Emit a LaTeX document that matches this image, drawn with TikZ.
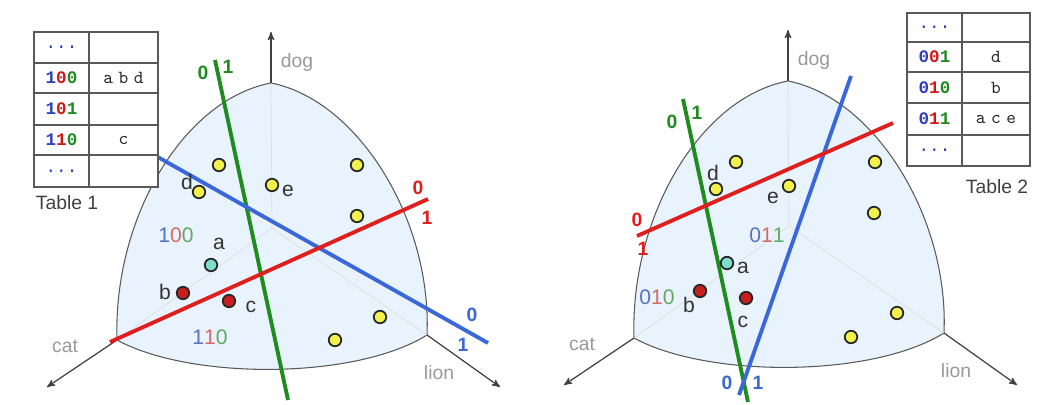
\documentclass[tikz,border=0pt]{standalone}
\usepackage{fontspec}
\setmainfont{Liberation Sans}
\newfontfamily\tabfont{Liberation Mono}
\usetikzlibrary{arrows}

\definecolor{facefill}{HTML}{E9F3FD}
\definecolor{hgreen}{HTML}{1E8C1E}
\definecolor{hblue}{HTML}{3A68DA}
\definecolor{hred}{HTML}{E01E1E}
\definecolor{ptyellow}{HTML}{F2F04A}
\definecolor{ptred}{HTML}{C81E1E}
\definecolor{ptcyan}{HTML}{7EDCCB}
\definecolor{rblue}{HTML}{5B6FC4}
\definecolor{rred}{HTML}{D46A6A}
\definecolor{rgreen}{HTML}{62A862}
\definecolor{tblue}{HTML}{2B3FC0}
\definecolor{tred}{HTML}{D01818}
\definecolor{tgreen}{HTML}{1F8A1F}

\newcommand{\regbits}[3]{\textcolor{rblue}{#1}\textcolor{rred}{#2}\textcolor{rgreen}{#3}}
\newcommand{\tabbits}[3]{{\tabfont\bfseries\textcolor{tblue}{#1}\textcolor{tred}{#2}\textcolor{tgreen}{#3}}}
\newcommand{\gap}{\hspace{0.3em}}

\begin{document}
\begin{tikzpicture}[x=0.02cm,y=-0.02cm,>=stealth',
  face/.style={draw=black!65,fill=facefill,line width=0.6pt},
  faint/.style={draw=black!13,line width=0.4pt},
  axis/.style={->,draw=black!75,line width=0.7pt},
  ax label/.style={text=black!40,font=\fontsize{11}{13}\selectfont},
  pt label/.style={text=black!80,font=\fontsize{12}{14}\selectfont},
  region/.style={font=\fontsize{12}{14}\selectfont},
  cut label/.style={font=\fontsize{11}{13}\selectfont\bfseries},
  hyper/.style={line width=2.2pt},
  dot/.style={circle,draw=black!85,line width=1pt,minimum size=0.25cm,inner sep=0pt},
  yellow dot/.style={dot,fill=ptyellow},
  red dot/.style={dot,fill=ptred},
  cyan dot/.style={dot,fill=ptcyan},
  tab line/.style={draw=black!65,line width=0.6pt},
  tab cell/.style={font=\fontsize{10}{12}\selectfont,inner sep=0pt},
  tab val/.style={font=\fontsize{10.5}{12}\selectfont\ttfamily,text=black!85,inner sep=0pt}]

  \useasboundingbox (0,0) rectangle (1037,405);

  % the two spherical triangles with their axes
  \foreach \p/\sx/\sy in {l/0/0, r/517/-2} {
    \begin{scope}[shift={(\sx,\sy)}]
      \coordinate (\p-top) at (271,83);
      \coordinate (\p-cat) at (117,340);
      \coordinate (\p-lion) at (427,335);
      \coordinate (\p-mid) at (272,228);
      \coordinate (\p-dogend) at (271,32);
      \coordinate (\p-catend) at (47,387);
      \coordinate (\p-lionend) at (500,387);
      \draw[face] (\p-top) .. controls (182,100) and (113,220) .. (\p-cat)
        .. controls (190,380) and (355,380) .. (\p-lion)
        .. controls (432,220) and (358,100) .. cycle;
      \draw[faint] (\p-mid) -- (\p-top) (\p-mid) -- (\p-cat) (\p-mid) -- (\p-lion);
      \draw[axis] (\p-top) -- (\p-dogend);
      \draw[axis] (\p-cat) -- (\p-catend);
      \draw[axis] (\p-lion) -- (\p-lionend);
      \node[ax label] (\p-dog) at (297,63) {dog};
      \node[ax label] (\p-catl) at (65,346) {cat};
      \node[ax label] (\p-lionl) at (439,373) {lion};
    \end{scope}
  }

  % hyperplanes, left
  \coordinate (l-g0) at (215,60);  \coordinate (l-g1) at (288,400);
  \coordinate (l-b0) at (140,147); \coordinate (l-b1) at (488,343);
  \coordinate (l-r0) at (110,342); \coordinate (l-r1) at (428,199);
  \draw[hyper,hgreen] (l-g0) -- (l-g1);
  \draw[hyper,hblue] (l-b0) -- (l-b1);
  \draw[hyper,hred] (l-r0) -- (l-r1);

  % hyperplanes, right
  \coordinate (r-g0) at (683,99);  \coordinate (r-g1) at (748,402);
  \coordinate (r-b0) at (851,76);  \coordinate (r-b1) at (739,395);
  \coordinate (r-r0) at (637,236); \coordinate (r-r1) at (893,123);
  \draw[hyper,hgreen] (r-g0) -- (r-g1);
  \draw[hyper,hblue] (r-b0) -- (r-b1);
  \draw[hyper,hred] (r-r0) -- (r-r1);

  % sides of the cuts
  \node[cut label,hgreen] (l-g0l) at (203,73) {0};
  \node[cut label,hgreen] (l-g1l) at (228,67) {1};
  \node[cut label,hred] (l-r0l) at (418,188) {0};
  \node[cut label,hred] (l-r1l) at (427,218) {1};
  \node[cut label,hblue] (l-b0l) at (472,315) {0};
  \node[cut label,hblue] (l-b1l) at (463,345) {1};
  \node[cut label,hgreen] (r-g0l) at (672,122) {0};
  \node[cut label,hgreen] (r-g1l) at (697,113) {1};
  \node[cut label,hred] (r-r0l) at (637,220) {0};
  \node[cut label,hred] (r-r1l) at (643,249) {1};
  \node[cut label,hblue] (r-b0l) at (727,383) {0};
  \node[cut label,hblue] (r-b1l) at (758,383) {1};

  % points, left
  \foreach \x/\y [count=\i] in {219/165, 199/192, 272/185, 357/165, 357/216, 380/317, 335/340}
    \node[yellow dot] (l-y\i) at (\x,\y) {};
  \node[cyan dot] (l-a) at (211,265) {};
  \node[red dot] (l-b) at (183,293) {};
  \node[red dot] (l-c) at (229,301) {};
  \node[pt label] (l-dl) at (187,182) {d};
  \node[pt label] (l-el) at (288,191) {e};
  \node[pt label] (l-al) at (219,244) {a};
  \node[pt label] (l-bl) at (165,292) {b};
  \node[pt label] (l-cl) at (251,307) {c};
  \node[region] (l-100) at (176,235) {\regbits{1}{0}{0}};
  \node[region] (l-110) at (210,337) {\regbits{1}{1}{0}};

  % points, right
  \foreach \x/\y [count=\i] in {736/162, 716/189, 789/186, 875/162, 874/213, 897/313, 851/337}
    \node[yellow dot] (r-y\i) at (\x,\y) {};
  \node[cyan dot] (r-a) at (727,263) {};
  \node[red dot] (r-b) at (700,291) {};
  \node[red dot] (r-c) at (746,298) {};
  \node[pt label] (r-dl) at (713,173) {d};
  \node[pt label] (r-el) at (773,198) {e};
  \node[pt label] (r-al) at (743,268) {a};
  \node[pt label] (r-bl) at (689,305) {b};
  \node[pt label] (r-cl) at (743,322) {c};
  \node[region] (r-011) at (767,235) {\regbits{0}{1}{1}};
  \node[region] (r-010) at (657,297) {\regbits{0}{1}{0}};

  % Table 1
  \fill[white] (34,32) rectangle (158,187);
  \draw[tab line] (34,32) rectangle (158,187);
  \foreach \y in {63,93,125,155} \draw[tab line] (34,\y) -- (158,\y);
  \draw[tab line] (89,32) -- (89,187);
  \node[tab cell] (t1-k1) at (61.5,47.5) {\tabfont\textcolor{tblue}{...}};
  \node[tab cell] (t1-k2) at (61.5,78) {\tabbits{1}{0}{0}};
  \node[tab cell] (t1-k3) at (61.5,109) {\tabbits{1}{0}{1}};
  \node[tab cell] (t1-k4) at (61.5,140) {\tabbits{1}{1}{0}};
  \node[tab cell] (t1-k5) at (61.5,171) {\tabfont\textcolor{tblue}{...}};
  \node[tab val] (t1-v2) at (123.5,78) {a\gap b\gap d};
  \node[tab val] (t1-v4) at (123.5,140) {c};
  \node[ax label,text=black!75] (t1) at (67,203) {Table 1};

  % Table 2
  \fill[white] (907,13) rectangle (1030,166);
  \draw[tab line] (907,13) rectangle (1030,166);
  \foreach \y in {42,72,103,135} \draw[tab line] (907,\y) -- (1030,\y);
  \draw[tab line] (962,13) -- (962,166);
  \node[tab cell] (t2-k1) at (934.5,27.5) {\tabfont\textcolor{tblue}{...}};
  \node[tab cell] (t2-k2) at (934.5,57) {\tabbits{0}{0}{1}};
  \node[tab cell] (t2-k3) at (934.5,87.5) {\tabbits{0}{1}{0}};
  \node[tab cell] (t2-k4) at (934.5,119) {\tabbits{0}{1}{1}};
  \node[tab cell] (t2-k5) at (934.5,150.5) {\tabfont\textcolor{tblue}{...}};
  \node[tab val] (t2-v2) at (996,57) {d};
  \node[tab val] (t2-v3) at (996,87.5) {b};
  \node[tab val] (t2-v4) at (996,119) {a\gap c\gap e};
  \node[ax label,text=black!75] (t2) at (997,187) {Table 2};

\end{tikzpicture}
\end{document}
